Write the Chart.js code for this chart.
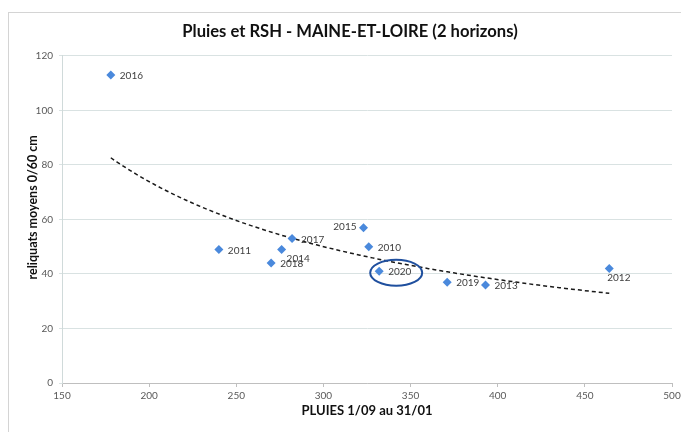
<!DOCTYPE html>
<html><head><meta charset="utf-8">
<script src="https://cdn.jsdelivr.net/npm/chart.js@4.4.0/dist/chart.umd.min.js"></script>
<style>html,body{margin:0;padding:0;background:#fff}canvas{display:block}</style>
</head><body>
<canvas id="c" width="681" height="432"></canvas>
<script>
// ---- data ----
const years    = [2010, 2011, 2012, 2013, 2014, 2015, 2016, 2017, 2018, 2019, 2020];
const rainfall = [326, 240, 464, 393, 276, 323, 178, 282, 270, 371, 332];   // PLUIES 1/09 au 31/01
const residues = [50, 49, 42, 36, 49, 57, 113, 53, 44, 37, 41];           // reliquats moyens 0/60 cm
const xTickValues = [150, 200, 250, 300, 350, 400, 450, 500];
const yTickValues = [0, 20, 40, 60, 80, 100, 120];
const highlightYear = 2020;

// ---- power trendline (least squares in log space, as a spreadsheet does) ----
const lx = rainfall.map(Math.log), ly = residues.map(Math.log);
const n = lx.length;
const mx = lx.reduce((a,b)=>a+b,0)/n, my = ly.reduce((a,b)=>a+b,0)/n;
let sxy = 0, sxx = 0;
for (let i=0;i<n;i++){ sxy += (lx[i]-mx)*(ly[i]-my); sxx += (lx[i]-mx)**2; }
const bPow = sxy/sxx, aPow = Math.exp(my - bPow*mx);
const xMin = Math.min(...rainfall), xMax = Math.max(...rainfall);
const trend = [];
for (let k=0;k<=80;k++){ const x = xMin + (xMax-xMin)*k/80; trend.push({x, y: aPow*Math.pow(x,bPow)}); }

const points = rainfall.map((x,i)=>({x, y: residues[i]}));

// label placement relative to the marker
const labelPlacement = {2014:'belowRight', 2015:'left', 2012:'below'};

const labelPlugin = {
  id:'pointLabels',
  afterDatasetsDraw(chart){
    const ctx = chart.ctx, meta = chart.getDatasetMeta(0);
    ctx.save();
    ctx.font = '10px Lato, "DejaVu Sans", sans-serif';
    ctx.fillStyle = '#404040';
    ctx.textBaseline = 'middle';
    meta.data.forEach((el,i)=>{
      const yr = years[i], p = labelPlacement[yr] || 'right';
      let x = el.x, y = el.y;
      if (p==='right'){ ctx.textAlign='left'; x += 9; y += 1; }
      else if (p==='left'){ ctx.textAlign='right'; x -= 7; y -= 1; }
      else if (p==='below'){ ctx.textAlign='left'; x -= 2; y += 9; }
      else if (p==='belowRight'){ ctx.textAlign='left'; x += 5; y += 9; }
      ctx.fillText(String(yr), x, y);
    });
    // highlight ellipse around the chosen year
    const idx = years.indexOf(highlightYear);
    const el = meta.data[idx];
    if (el){
      ctx.beginPath();
      ctx.ellipse(el.x + 17, el.y + 1.5, 26, 13, 0, 0, Math.PI*2);
      ctx.strokeStyle = '#1f4f9e';
      ctx.lineWidth = 2;
      ctx.stroke();
    }
    ctx.restore();
  }
};

const framePlugin = {
  id:'frame',
  beforeDraw(chart){
    const ctx = chart.ctx;
    ctx.save();
    ctx.fillStyle = '#fff';
    ctx.fillRect(0,0,chart.width,chart.height);
    ctx.strokeStyle = '#d4d4d4';
    ctx.lineWidth = 1;
    ctx.strokeRect(8.5, 12.5, 720, 480);
    ctx.restore();
  }
};

new Chart(document.getElementById('c'), {
  type:'scatter',
  data:{
    datasets:[
      {
        label:'RSH',
        data: points,
        pointStyle:'rectRot',
        pointRadius:4.5,
        pointHoverRadius:4.5,
        backgroundColor:'#4a89dc',
        borderColor:'#4a89dc',
        borderWidth:0,
        order:1
      },
      {
        label:'Tendance',
        data: trend,
        showLine:true,
        pointRadius:0,
        borderColor:'#1a1a1a',
        borderWidth:1.5,
        borderDash:[4,3],
        fill:false,
        order:2
      }
    ]
  },
  options:{
    responsive:false,
    animation:false,
    devicePixelRatio:1,
    layout:{padding:{left:19,right:0,top:0,bottom:0}},
    plugins:{
      legend:{display:false},
      tooltip:{enabled:false},
      title:{
        display:true,
        text:'Pluies et RSH - MAINE-ET-LOIRE (2 horizons)',
        color:'#111',
        font:{family:'Lato, "DejaVu Sans", sans-serif', size:16.6, weight:'bold'},
        padding:{top:22,bottom:14}
      }
    },
    scales:{
      x:{
        type:'linear',
        min:xTickValues[0], max:xTickValues[xTickValues.length-1],
        afterBuildTicks(s){ s.ticks = xTickValues.map(v=>({value:v})); },
        ticks:{font:{family:'Lato, "DejaVu Sans", sans-serif', size:10}, color:'#595959', padding:3},
        grid:{drawOnChartArea:false, drawTicks:true, tickLength:4, color:'#bfbfbf'},
        border:{display:true, color:'#bfbfbf'},
        title:{display:true, text:'PLUIES 1/09 au 31/01', color:'#111',
          font:{family:'Lato, "DejaVu Sans", sans-serif', size:13, weight:'bold'}, padding:{top:4,bottom:13}},
        afterFit(s){ s.height = 49; s.paddingRight = 9; }
      },
      y:{
        type:'linear',
        min:yTickValues[0], max:yTickValues[yTickValues.length-1],
        afterBuildTicks(s){ s.ticks = yTickValues.map(v=>({value:v})); },
        ticks:{font:{family:'Lato, "DejaVu Sans", sans-serif', size:10}, color:'#595959', padding:6},
        grid:{drawOnChartArea:true, drawTicks:true, tickLength:3, color:'#d9e2e2'},
        border:{display:true, color:'#d0dada'},
        title:{display:true, text:'        reliquats moyens 0/60 cm', color:'#111',
          font:{family:'Lato, "DejaVu Sans", sans-serif', size:12.5, weight:'bold'}, padding:{top:6,bottom:0}},
        afterFit(s){ s.width = 43; }
      }
    }
  },
  plugins:[framePlugin, labelPlugin]
});
</script>
</body></html>
